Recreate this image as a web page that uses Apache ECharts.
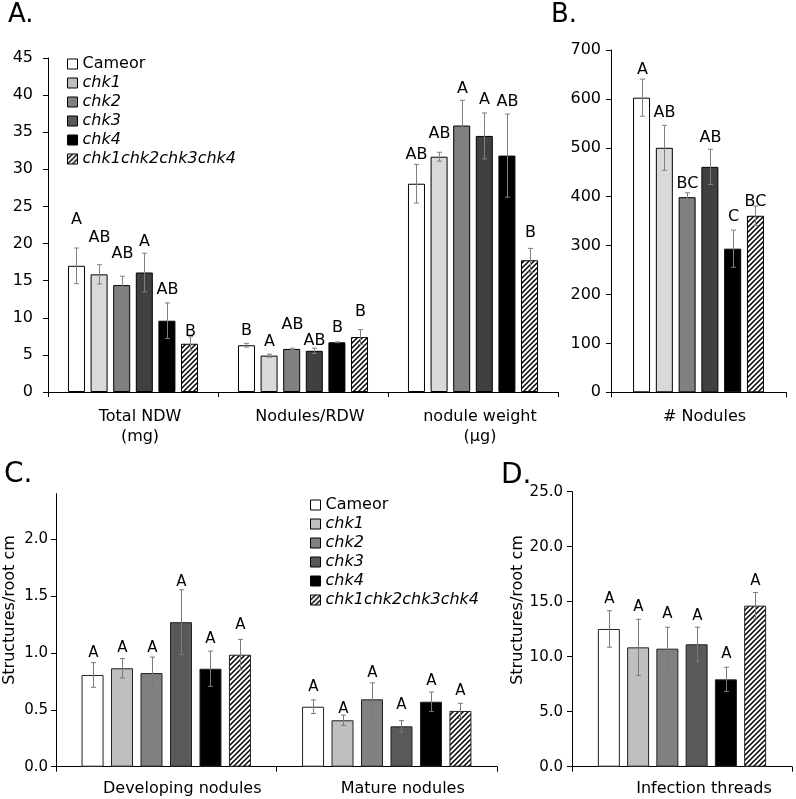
<!DOCTYPE html>
<html><head><meta charset="utf-8">
<script src="https://cdn.jsdelivr.net/npm/echarts@6/dist/echarts.min.js"></script>
<style>html,body{margin:0;padding:0;background:#fff}#c{width:796px;height:799px}</style>
</head><body><div id="c"></div>
<script>
// ---------------- data ----------------
const genotypes = ['Cameor', 'chk1', 'chk2', 'chk3', 'chk4', 'chk1chk2chk3chk4'];

// Panel A
const catsA = ['Total NDW\n(mg)', 'Nodules/RDW', 'nodule weight\n(\u00b5g)'];
const ticksA = [0, 5, 10, 15, 20, 25, 30, 35, 40, 45];
const ndwMean = [17.0, 15.85, 14.4, 16.1, 9.6, 6.5];
const ndwErr = [2.4, 1.3, 1.2, 2.6, 2.4, 0.95];
const ndwLetters = ['A', 'AB', 'AB', 'A', 'AB', 'B'];
const ndwLetterAt = [23.2, 20.75, 18.6, 20.25, 13.75, 8.1];
const rdwMean = [6.3, 4.9, 5.8, 5.55, 6.7, 7.4];
const rdwErr = [0.25, 0.2, 0.1, 0.35, 0.05, 1.0];
const rdwLetters = ['B', 'A', 'AB', 'AB', 'B', 'B'];
const rdwLetterAt = [8.26, 6.7, 9.0, 6.9, 8.6, 10.75];
const nwMean = [28.06, 31.7, 35.9, 34.5, 31.85, 17.75];
const nwErr = [2.6, 0.6, 3.4, 3.1, 5.6, 1.6];
const nwLetters = ['AB', 'AB', 'A', 'A', 'AB', 'B'];
const nwLetterAt = [32.0, 34.8, 40.9, 39.35, 39.1, 21.4];

// Panel B
const catsB = ['# Nodules'];
const ticksB = [0, 100, 200, 300, 400, 500, 600, 700];
const nodMean = [602.5, 500, 399, 461, 293.7, 361];
const nodErr = [38, 46, 9, 36, 38, 20];
const nodLetters = ['A', 'AB', 'BC', 'AB', 'C', 'BC'];
const nodLetterAt = [659, 572, 427, 521, 358, 390];

// Panel C
const catsC = ['Developing nodules', 'Mature nodules'];
const ticksC = [0, 0.5, 1.0, 1.5, 2.0];
const axisTopC = 2.4;
const devMean = [0.806, 0.865, 0.823, 1.27, 0.861, 0.984];
const devErr = [0.108, 0.085, 0.14, 0.285, 0.155, 0.135];
const devLetters = ['A', 'A', 'A', 'A', 'A', 'A'];
const devLetterAt = [0.996, 1.046, 1.046, 1.626, 1.12, 1.245];
const matMean = [0.527, 0.408, 0.592, 0.355, 0.571, 0.49];
const matErr = [0.06, 0.045, 0.145, 0.05, 0.085, 0.067];
const matLetters = ['A', 'A', 'A', 'A', 'A', 'A'];
const matLetterAt = [0.703, 0.51, 0.826, 0.54, 0.753, 0.66];

// Panel D
const catsD = ['Infection threads'];
const ticksD = [0, 5, 10, 15, 20, 25];
const itMean = [12.52, 10.85, 10.73, 11.13, 7.94, 14.64];
const itErr = [1.66, 2.55, 1.95, 1.55, 1.1, 1.2];
const itLetters = ['A', 'A', 'A', 'A', 'A', 'A'];
const itLetterAt = [15.25, 14.55, 13.85, 13.73, 10.2, 16.9];

// ---------------- styling ----------------
const FONT = 'DejaVu Sans';
function hatchCanvas() {
  const s = 5;
  const c = document.createElement('canvas');
  c.width = s; c.height = s;
  const x = c.getContext('2d');
  x.fillStyle = '#fff'; x.fillRect(0, 0, s, s);
  x.strokeStyle = '#000'; x.lineWidth = 1.5;
  x.beginPath();
  x.moveTo(-1, s + 1); x.lineTo(s + 1, -1);
  x.moveTo(-1, 1); x.lineTo(1, -1);
  x.moveTo(s - 1, s + 1); x.lineTo(s + 1, s - 1);
  x.stroke();
  return c;
}
const hatch = { image: hatchCanvas(), repeat: 'repeat' };
const colorsAB = ['#ffffff', '#d9d9d9', '#808080', '#404040', '#000000', hatch];
const colorsCD = ['#ffffff', '#bfbfbf', '#808080', '#595959', '#000000', hatch];

const series = [];
function addPanel(idx, means, errs, letters, letterAt, colors, o) {
  const nG = genotypes.length;
  for (let g = 0; g < nG; g++) {
    series.push({
      type: 'bar', name: genotypes[g], xAxisIndex: idx, yAxisIndex: idx,
      data: means.map(m => m[g]),
      barWidth: o.bw, barGap: o.gap,
      itemStyle: { color: colors[g], borderColor: o.border, borderWidth: 1 },
      emphasis: { disabled: true }, silent: true, animation: false
    });
  }
  const pitch = o.bw * (1 + parseFloat(o.gap) / 100);
  const data = [], lets = [];
  means.forEach((m, c) => {
    for (let g = 0; g < nG; g++) {
      data.push([c, g, m[g], errs[c][g], letterAt[c][g]]);
      lets.push(letters[c][g]);
    }
  });
  series.push({
    type: 'custom', name: 'err' + idx, xAxisIndex: idx, yAxisIndex: idx, z: 5,
    silent: true, animation: false, clip: false,
    data: data,
    renderItem: function (params, api) {
      const c = api.value(0), g = api.value(1), m = api.value(2), e = api.value(3), la = api.value(4);
      const cx = Math.round(api.coord([c, 0])[0] + (g - (nG - 1) / 2) * pitch) + 0.5;
      const yT = api.coord([c, m + e])[1], yB = api.coord([c, m - e])[1];
      const yL = api.coord([c, la])[1];
      const st = { stroke: o.errColor, lineWidth: 1 };
      return {
        type: 'group', children: [
          { type: 'line', shape: { x1: cx, y1: yT, x2: cx, y2: yB }, style: st },
          { type: 'line', shape: { x1: cx - o.cap, y1: yT, x2: cx + o.cap, y2: yT }, style: st },
          { type: 'line', shape: { x1: cx - o.cap, y1: yB, x2: cx + o.cap, y2: yB }, style: st },
          { type: 'text', x: cx, y: yL, style: { text: lets[params.dataIndex], font: o.letterFont, fill: '#000', align: 'center', verticalAlign: 'middle' } }
        ]
      };
    }
  });
}
addPanel(0, [ndwMean, rdwMean, nwMean], [ndwErr, rdwErr, nwErr], [ndwLetters, rdwLetters, nwLetters],
  [ndwLetterAt, rdwLetterAt, nwLetterAt], colorsAB,
  { bw: 17, gap: '33%', border: '#000', errColor: '#808080', cap: 2.5, letterFont: '16px "DejaVu Sans"' });
addPanel(1, [nodMean], [nodErr], [nodLetters], [nodLetterAt], colorsAB,
  { bw: 17, gap: '34%', border: '#000', errColor: '#808080', cap: 2.5, letterFont: '16px "DejaVu Sans"' });
addPanel(2, [devMean, matMean], [devErr, matErr], [devLetters, matLetters], [devLetterAt, matLetterAt], colorsCD,
  { bw: 22, gap: '34%', border: '#222', errColor: '#7a7a7a', cap: 2.5, letterFont: '15px "DejaVu Sans"' });
addPanel(3, [itMean], [itErr], [itLetters], [itLetterAt], colorsCD,
  { bw: 22, gap: '33%', border: '#222', errColor: '#7a7a7a', cap: 2.5, letterFont: '15px "DejaVu Sans"' });

function xAx(idx, cats, margin, padLeft) {
  return {
    type: 'category', gridIndex: idx, data: cats,
    axisLine: { show: true, lineStyle: { color: '#000', width: 1 } },
    axisTick: { show: true, length: 5, lineStyle: { color: '#000' } },
    axisLabel: { fontFamily: FONT, fontSize: 16, color: '#000', lineHeight: 20, margin: margin, padding: [0, 0, 0, padLeft] }
  };
}
function yAx(idx, ticks, max, margin, size, fmt) {
  const ax = {
    type: 'value', gridIndex: idx, min: ticks[0], max: max, interval: ticks[1] - ticks[0],
    splitLine: { show: false },
    axisLine: { show: true, lineStyle: { color: '#000', width: 1 } },
    axisTick: { show: true, length: 5, lineStyle: { color: '#000' } },
    axisLabel: { fontFamily: FONT, fontSize: size, color: '#000', margin: margin, formatter: fmt || (v => String(v)) }
  };
  if (max !== ticks[ticks.length - 1]) {
    ax.axisLabel.customValues = ticks;
    ax.axisTick.customValues = ticks;
  }
  return ax;
}
const fix1 = v => v.toFixed(1);

function legendData() {
  return genotypes.map((n, i) => ({ name: n, itemStyle: { color: colorsCD[i], borderColor: '#000', borderWidth: 1 } }));
}
const legendText = {
  fontFamily: FONT, fontSize: 16, color: '#000', lineHeight: 16,
  rich: { i: { fontFamily: FONT, fontSize: 16, fontStyle: 'italic', color: '#000', lineHeight: 16 } }
};
const legendFmt = n => n === 'Cameor' ? n : '{i|' + n + '}';

function gtext(t, x, y, size, rot) {
  return {
    type: 'text', x: x, y: y, rotation: rot || 0, silent: true,
    style: { text: t, font: size + 'px "DejaVu Sans"', fill: '#000', align: rot ? 'center' : 'left', verticalAlign: 'middle' }
  };
}

const option = {
  animation: false,
  backgroundColor: '#fff',
  grid: [
    { left: 48, right: 238, top: 58, bottom: 407 },
    { left: 611, right: 10, top: 50, bottom: 406.7 },
    { left: 56, right: 299, top: 493.6, bottom: 32.3 },
    { left: 572, right: 4, top: 491.7, bottom: 32.3 }
  ],
  xAxis: [
    xAx(0, catsA, 15, 14),
    xAx(1, catsB, 15, 12),
    xAx(2, catsC, 12, 32),
    xAx(3, catsD, 12, 44)
  ],
  yAxis: [
    yAx(0, ticksA, ticksA[ticksA.length - 1], 15, 16),
    yAx(1, ticksB, ticksB[ticksB.length - 1], 10, 16),
    yAx(2, ticksC, axisTopC, 8, 15, fix1),
    yAx(3, ticksD, ticksD[ticksD.length - 1], 9, 15, fix1)
  ],
  legend: [
    { orient: 'vertical', left: 62, top: 51, itemWidth: 10, itemHeight: 10, itemGap: 3, icon: 'rect',
      data: legendData(), textStyle: legendText, formatter: legendFmt, selectedMode: false },
    { orient: 'vertical', left: 305, top: 492, itemWidth: 10, itemHeight: 10, itemGap: 3, icon: 'rect',
      data: legendData(), textStyle: legendText, formatter: legendFmt, selectedMode: false }
  ],
  graphic: [
    gtext('A.', 8, 15, 26),
    gtext('B.', 551, 15, 26),
    gtext('C.', 4, 475, 28),
    gtext('D.', 501, 476, 28),
    gtext('Structures/root cm', 10, 610, 16, Math.PI / 2),
    gtext('Structures/root cm', 518, 610, 16, Math.PI / 2)
  ],
  series: series
};
const chart = echarts.init(document.getElementById('c'), null, { renderer: 'canvas' });
chart.setOption(option);
</script></body></html>
